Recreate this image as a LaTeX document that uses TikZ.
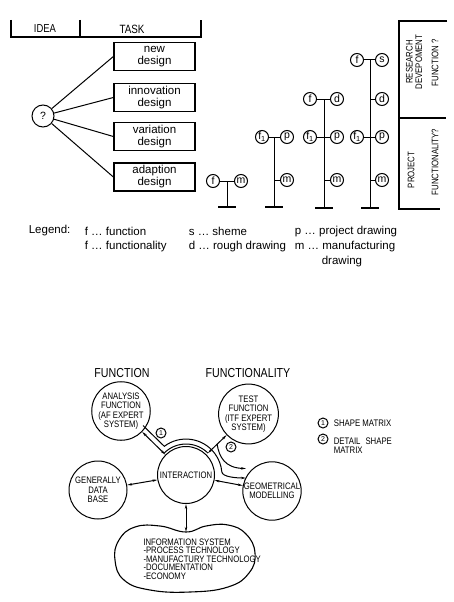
\documentclass[tikz,border=0pt]{standalone}
\usepackage{fontspec}
\setmainfont{Liberation Sans}
\newfontfamily\narrow{Liberation Sans}[FakeStretch=0.82]
\usetikzlibrary{arrows.meta,calc}

\tikzset{
  taskbox/.style={draw, line width=1.3pt, minimum width=81pt, minimum height=28pt,
    align=center, inner sep=1pt, font=\fontsize{11.5}{12}\selectfont},
  tc/.style={draw, circle, minimum size=13pt, inner sep=0pt, font=\fontsize{10.5}{10}\selectfont},
  bubble/.style={draw, circle, inner sep=0pt, align=center, font=\narrow\fontsize{9.4}{9.5}\selectfont},
  numc/.style={draw, circle, minimum size=10pt, inner sep=0pt, font=\fontsize{7}{7}\selectfont},
  caps/.style={font=\narrow\fontsize{#1}{#1}\selectfont},
  legtxt/.style={anchor=west, font=\fontsize{11.5}{12}\selectfont},
  arr/.style={<->, >={Stealth[length=5pt,width=2.4pt]}},
  onearr/.style={-{Stealth[length=5pt,width=2.4pt]}},
  stand/.style={line width=1.5pt},
}

\begin{document}
\begin{tikzpicture}[x=1pt, y=-1pt, line width=1pt]
\useasboundingbox (0,0) rectangle (454,602);

% Kopfzeile
\draw[line width=1.2pt] (11,20) -- (11,37) -- (201,37) -- (201,20);
\draw[line width=1.2pt] (80,20) -- (80,37);
\node[caps=11.5] (idea) at (45,29) {IDEA};
\node[caps=12] (task) at (132,29) {TASK};

% Aufgaben
\node[draw, circle, minimum size=22pt, inner sep=0pt, font=\fontsize{10.5}{10}\selectfont] (q) at (43,116) {?};
\node[taskbox] (new) at (154.5,56.5) {new\\design};
\node[taskbox] (innov) at (154.5,97.5) {innovation\\design};
\node[taskbox] (var) at (154.5,136.5) {variation\\design};
\node[taskbox] (adapt) at (154.5,177) {adaption\\design};
\foreach \b in {new,innov,var,adapt}
  \draw (q) -- (\b.west);

% Baum 1
\node[tc] (f1) at (213,181) {f};
\node[tc] (m1) at (241,181) {m};
\draw (f1) -- (m1);
\coordinate (t1) at (227,181);
\coordinate (b1) at (227,207);
\draw (t1) -- (b1);
\draw[stand] ($(b1)+(-9,0)$) -- ($(b1)+(9,0)$);

% Baum 2
\node[tc] (fa2) at (262,137) {f\textsubscript{1}};
\node[tc] (p2) at (287,137) {p};
\node[tc] (m2) at (287,180) {m};
\coordinate (t2) at (274,137);
\coordinate (b2) at (274,207);
\draw (fa2) -- (p2);
\draw (t2) -- (b2);
\draw (m2) -- (m2 -| t2);
\draw[stand] ($(b2)+(-9,0)$) -- ($(b2)+(9,0)$);

% Baum 3
\node[tc] (f3) at (310,99) {f};
\node[tc] (d3) at (337,99) {d};
\node[tc] (fa3) at (310,137) {f\textsubscript{1}};
\node[tc] (p3) at (337,137) {p};
\node[tc] (m3) at (337,180) {m};
\coordinate (t3) at (324,99);
\coordinate (b3) at (324,208);
\draw (f3) -- (d3);
\draw (fa3) -- (p3);
\draw (t3) -- (b3);
\draw (m3) -- (m3 -| t3);
\draw[stand] ($(b3)+(-9,0)$) -- ($(b3)+(9,0)$);

% Baum 4
\node[tc] (f4) at (357,60) {f};
\node[tc] (s4) at (382,60) {s};
\node[tc] (d4) at (382,99) {d};
\node[tc] (fa4) at (357,137) {f\textsubscript{1}};
\node[tc] (p4) at (382,137) {p};
\node[tc] (m4) at (382,180) {m};
\coordinate (t4) at (370,60);
\coordinate (b4) at (370,208);
\draw (f4) -- (s4);
\draw (fa4) -- (p4);
\draw (t4) -- (b4);
\draw (d4) -- (d4 -| t4);
\draw (m4) -- (m4 -| t4);
\draw[stand] ($(b4)+(-9,0)$) -- ($(b4)+(9,0)$);

% Rahmen rechts
\draw[line width=1.2pt] (447,21) -- (399,21) -- (399,209) -- (440,209);
\draw[line width=1.2pt] (399,118) -- (446,118);
\node[rotate=90, align=center, caps=9.5] (rd) at (414,62) {RESEARCH\\DEVEPOMENT};
\node[rotate=90, caps=9.5] (fq) at (435,63) {FUNCTION ?};
\node[rotate=90, caps=9.5] (pj) at (411,170) {PROJECT};
\node[rotate=90, caps=9.5] (fy) at (435,162) {FUNCTIONALITY?};

% Legende
\node[legtxt] (lg) at (25,231) {Legend:};
\node[legtxt] (lf) at (81,231) {f \ldots\ function};
\node[legtxt] (lfy) at (81,247) {f \ldots\ functionality};
\node[legtxt] (ls) at (185,231) {s \ldots\ sheme};
\node[legtxt] (ld) at (185,247) {d \ldots\ rough drawing};
\node[legtxt] (lp) at (291,232) {p \ldots\ project drawing};
\node[legtxt] (lm) at (291,247) {m \ldots\ manufacturing};
\node[legtxt] (lmd) at (318,262) {drawing};

% Funktion / Funktionalitaet
\node[caps=13] (fn) at (122,373) {FUNCTION};
\node[caps=13] (fty) at (248,373) {FUNCTIONALITY};

\node[bubble, minimum size=52pt] (ana) at (121,411) {ANALYSIS\\FUNCTION\\(AF EXPERT\\SYSTEM)};
\node[bubble, minimum size=56pt] (test) at (248.5,414) {TEST\\FUNCTION\\(ITF EXPERT\\SYSTEM)};
\node[bubble, minimum size=57pt] (int) at (186,475) {INTERACTION};
\node[bubble, minimum size=58pt] (gen) at (98,490) {GENERALLY\\DATA\\BASE};
\node[bubble, minimum size=56pt] (geo) at (272,491) {GEOMETRICAL\\MODELLING};

% Informationssystem
\draw[line width=1.1pt] plot[smooth cycle, tension=0.75] coordinates {(186,532) (160,526) (135,527) (119,540) (115,560) (124,580) (150,590) (190,592) (228,587) (249,573) (255,553) (246,534) (228,525) (206,526)};
\coordinate (infotop) at (186,532);
\node[anchor=north west, align=left, inner sep=0pt, font=\narrow\fontsize{9.4}{8.5}\selectfont] (info) at (143,538)
  {INFORMATION SYSTEM\\-PROCESS TECHNOLOGY\\-MANUFACTURY TECHNOLOGY\\-DOCUMENTATION\\-ECONOMY};

% Verbindungen
\draw[arr] (ana) -- (int);
\draw[arr] (gen) -- (int);
\draw[arr] (int) -- (geo);
\draw[arr] (int) -- (infotop);

\coordinate (pa) at (143,425.5);
\coordinate (pb) at (164.3,446.3);
\coordinate (pc) at (164.1,453.1);
\coordinate (t0) at (207.9,453.1);
\coordinate (t2s) at (217.1,443.9);
\coordinate (g1) at (246,478);
\coordinate (g2) at (246,468.5);
\draw[onearr] (pa) -- (pb) arc[start angle=-127, end angle=-5, radius=36]
  .. controls +(0.5,5) and +(-10,0) .. (g1);
\draw (pc) arc[start angle=-135, end angle=-45, radius=31];
\draw[arr] (t0) -- (test);
\draw[onearr] (t2s) .. controls (219,457) and (225,468) .. (g2);

\node[numc] (n1) at (161,433) {1};
\node[numc] (n2) at (231,447) {2};

% Legende unten
\node[numc] (k1) at (323,423) {1};
\node[anchor=west, caps=9.5] (k1t) at (330,423) {SHAPE MATRIX};
\node[numc] (k2) at (323,439) {2};
\node[anchor=north west, align=left, caps=9.5] (k2t) at (330,434) {DETAIL\hspace{5pt}SHAPE\\MATRIX};

\end{tikzpicture}
\end{document}
